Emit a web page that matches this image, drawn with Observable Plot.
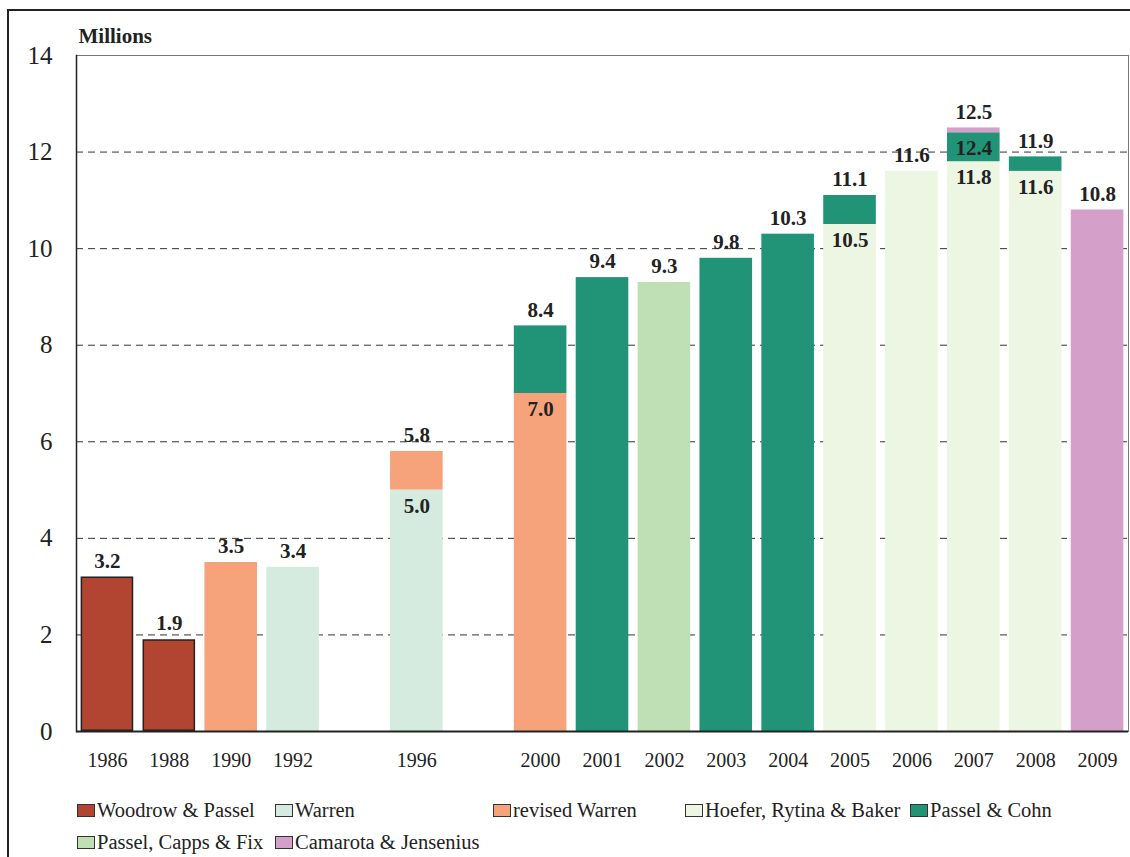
<!DOCTYPE html>
<html>
<head>
<meta charset="utf-8">
<script src="https://cdn.jsdelivr.net/npm/d3@7"></script>
<script src="https://cdn.jsdelivr.net/npm/@observablehq/plot@0.6"></script>
<style>
  html, body { margin: 0; padding: 0; background: #fff; width: 1130px; height: 857px; overflow: hidden; }
  body { position: relative; font-family: "Liberation Serif", "DejaVu Serif", serif; }
  #frame { position: absolute; left: 7px; top: 9px; width: 1130px; height: 860px; border-top: 2px solid #222; border-left: 2px solid #222; }
  #chart { position: absolute; left: 0; top: 0; }
  .lg { position: absolute; display: flex; align-items: center; font-size: 20.5px; color: #222; white-space: nowrap; }
  .sw { width: 16px; height: 11px; border: 1.5px solid #333; margin-right: 2px; }
</style>
</head>
<body>
<div id="frame"></div>
<div id="chart"></div>
<div id="legend"></div>
<script>
// ---- data ----
const slots = ["1986","1988","1990","1992","gap-a","1996","gap-b","2000","2001","2002","2003","2004","2005","2006","2007","2008","2009"];
const sources = ["Woodrow & Passel","Warren","revised Warren","Hoefer, Rytina & Baker","Passel & Cohn","Passel, Capps & Fix","Camarota & Jensenius"];
const sourceColors = ["#b24531","#d5ebdf","#f6a37b","#edf5e3","#219377","#bfe0b5","#d49fc8"];
const estYear   = ["1986","1988","1990","1992","1996","1996","2000","2000","2001","2002","2003","2004","2005","2005","2006","2007","2007","2007","2008","2008","2009"];
const estSource = ["Woodrow & Passel","Woodrow & Passel","revised Warren","Warren","Warren","revised Warren","revised Warren","Passel & Cohn","Passel & Cohn","Passel, Capps & Fix","Passel & Cohn","Passel & Cohn","Hoefer, Rytina & Baker","Passel & Cohn","Hoefer, Rytina & Baker","Hoefer, Rytina & Baker","Passel & Cohn","Camarota & Jensenius","Hoefer, Rytina & Baker","Passel & Cohn","Camarota & Jensenius"];
const estValue  = [3.2,1.9,3.5,3.4,5.0,5.8,7.0,8.4,9.4,9.3,9.8,10.3,10.5,11.1,11.6,11.8,12.4,12.5,11.6,11.9,10.8];
const yTicks = [0,2,4,6,8,10,12,14];
const gridTicks = [2,4,6,8,10,12];

// build stacked segments: each estimate spans from the next-lower estimate to its value
const rows = estYear.map((year, i) => ({year, source: estSource[i], value: estValue[i]}));
const byYear = d3.group(rows, d => d.year);
for (const [, list] of byYear) {
  list.sort((a, b) => a.value - b.value);
  list.forEach((d, i) => { d.y1 = i === 0 ? 0 : list[i - 1].value; d.y2 = d.value; d.top = i === list.length - 1; });
}
const segs = Array.from(byYear.values()).flat();

const font = "Liberation Serif";
const chart = Plot.plot({
  width: 1130, height: 790,
  marginLeft: 76, marginTop: 55, marginRight: 2, marginBottom: 59,
  style: {fontFamily: font, background: "transparent", color: "#222"},
  x: {domain: slots, paddingInner: 0.15, paddingOuter: 0.075, round: false, label: null},
  y: {domain: [0, 14], label: null},
  color: {domain: sources, range: sourceColors},
  marks: [
    Plot.ruleY(gridTicks, {stroke: "#333", strokeWidth: 1, strokeDasharray: "7,5"}),
    Plot.barY(segs.filter(d => d.source !== "Woodrow & Passel"), {x: "year", y1: "y1", y2: "y2", fill: "source"}),
    Plot.barY(segs.filter(d => d.source === "Woodrow & Passel"), {x: "year", y1: "y1", y2: "y2", fill: "source", stroke: "#222", strokeWidth: 1.5, inset: 0.75}),
    Plot.frame({stroke: "#777", strokeWidth: 1}),
    Plot.frame({anchor: "left", stroke: "#222", strokeWidth: 1.5}),
    Plot.ruleY([0], {stroke: "#222", strokeWidth: 2}),
    Plot.axisX({tickSize: 0, tickPadding: 21, fontSize: 20, tickFormat: d => d.startsWith("gap") ? "" : d}),
    Plot.axisY({ticks: yTicks, tickSize: 0, tickPadding: 24, fontSize: 25, tickFormat: d => String(d)}),
    Plot.text(segs.filter(d => d.top), {x: "year", y: "y2", text: d => d.value.toFixed(1), dy: -16, fontSize: 21, fontWeight: "bold", fill: "#222", lineAnchor: "middle"}),
    Plot.text(segs.filter(d => !d.top), {x: "year", y: "y2", text: d => d.value.toFixed(1), dy: 16, fontSize: 21, fontWeight: "bold", fill: "#222", lineAnchor: "middle"}),
    Plot.text(["Millions"], {frameAnchor: "top-left", text: d => d, dx: 2, dy: -19, lineAnchor: "middle", textAnchor: "start", fontSize: 21, fontWeight: "bold", fill: "#222"})
  ]
});
document.getElementById("chart").appendChild(chart);

// ---- legend (HTML, below the SVG) ----
const legendPos = [[77, 810], [275, 810], [493, 810], [685, 810], [910, 810], [77, 842], [275, 842]];
const legend = document.getElementById("legend");
sources.forEach((s, i) => {
  const item = document.createElement("div");
  item.className = "lg";
  item.style.left = legendPos[i][0] + "px";
  item.style.top = (legendPos[i][1] - 12) + "px";
  item.style.height = "24px";
  const sw = document.createElement("div");
  sw.className = "sw";
  sw.style.background = sourceColors[i];
  item.appendChild(sw);
  const t = document.createElement("span");
  t.textContent = s;
  item.appendChild(t);
  legend.appendChild(item);
});
</script>
</body>
</html>
